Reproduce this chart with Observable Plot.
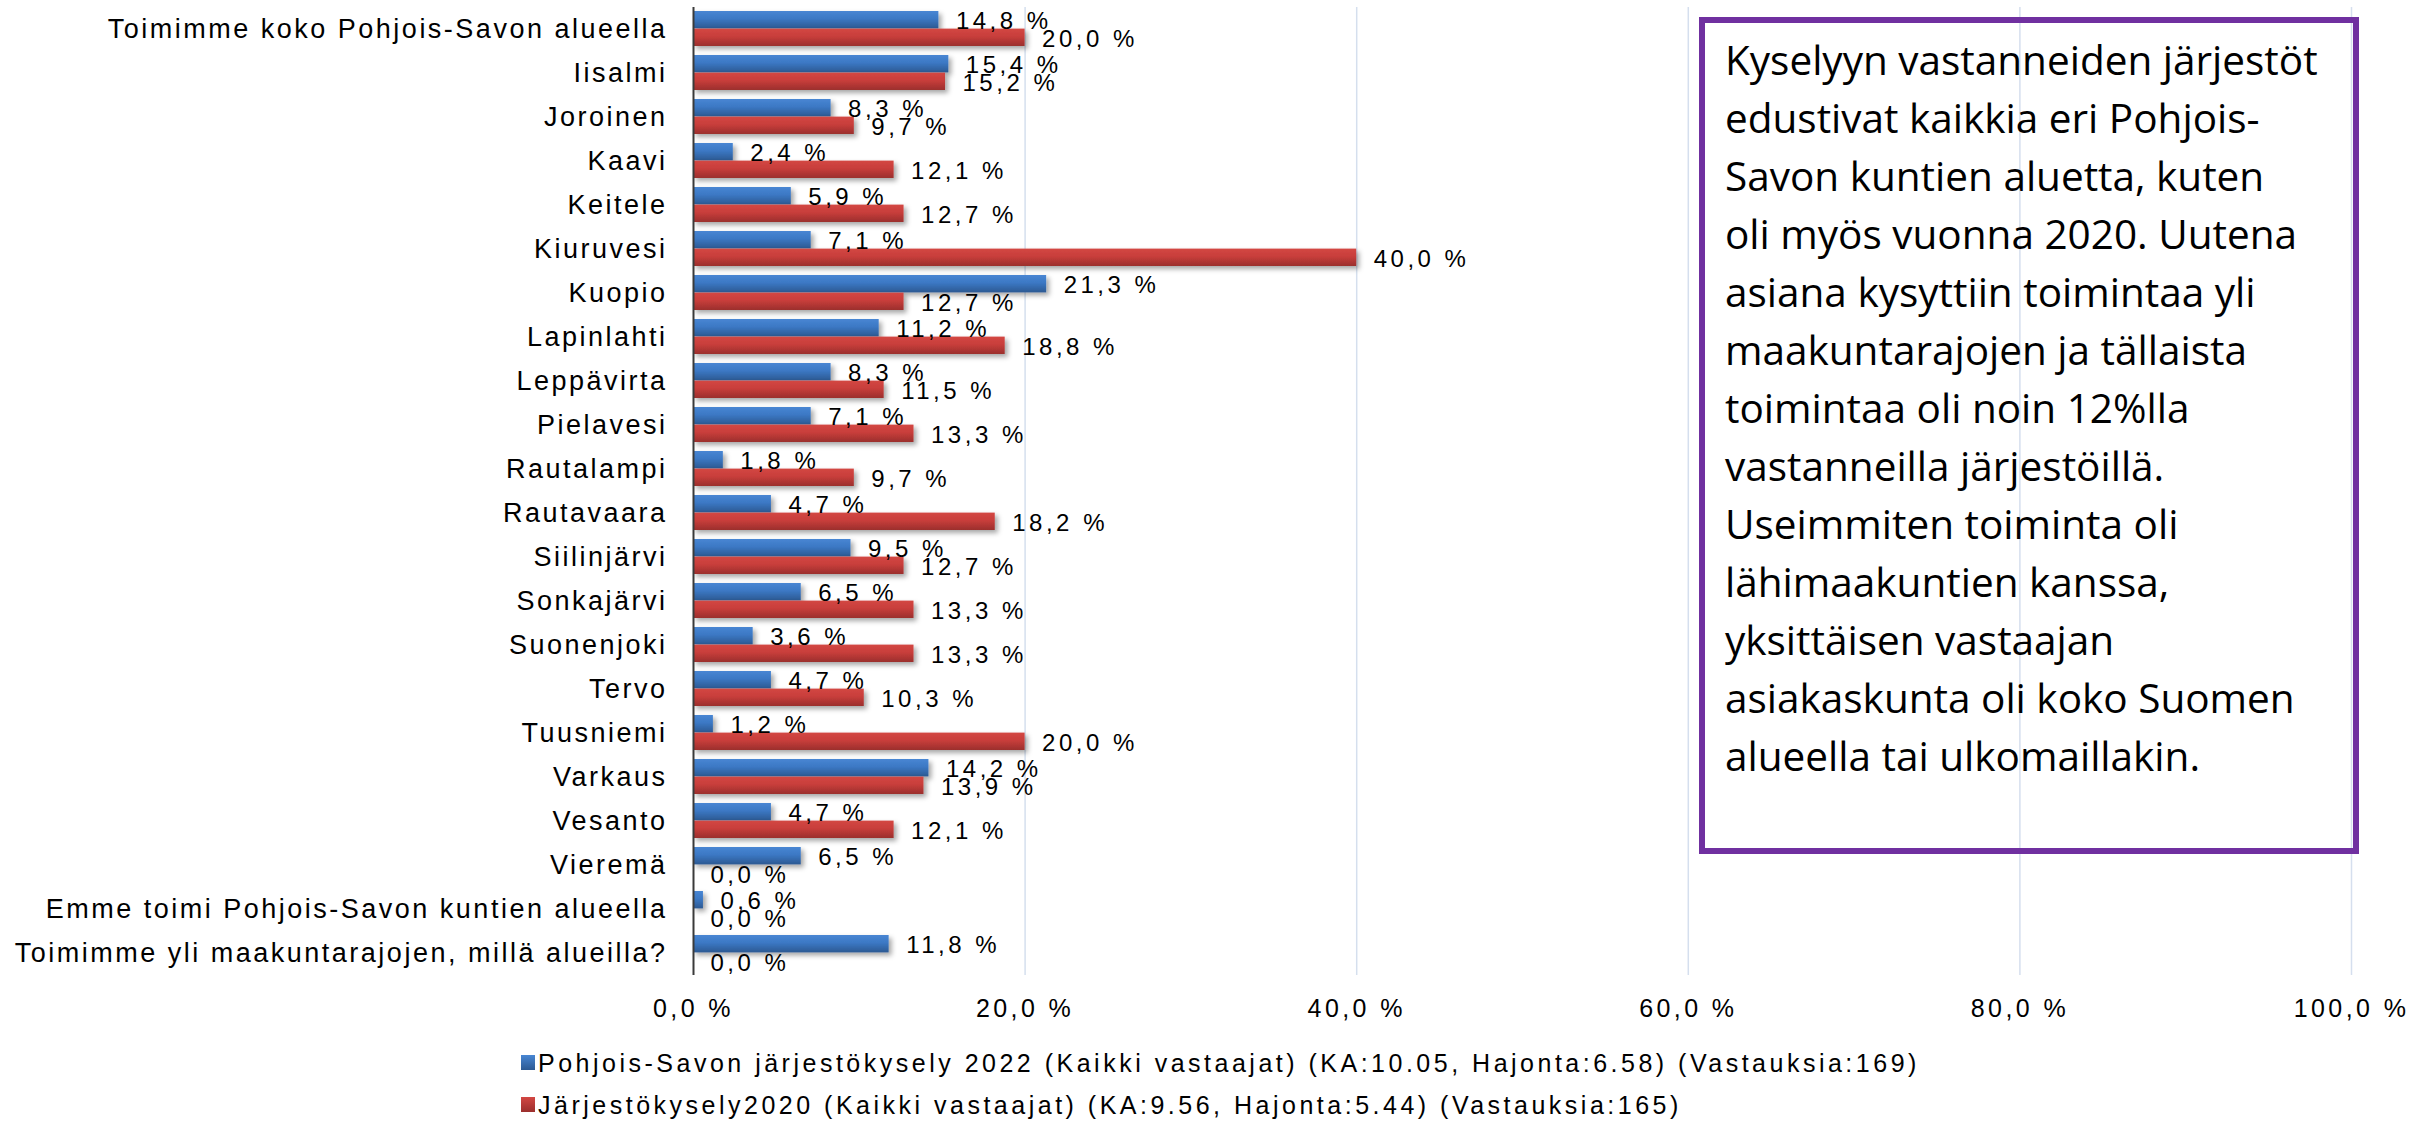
<!DOCTYPE html>
<html><head><meta charset="utf-8">
<script src="https://cdn.jsdelivr.net/npm/d3@7"></script>
<script src="https://cdn.jsdelivr.net/npm/@observablehq/plot@0.6"></script>
<style>
body{margin:0;background:#fff;}
#wrap{position:relative;width:2422px;height:1121px;overflow:hidden;background:#fff;}
#wrap svg{display:block;}
#legend{position:absolute;left:0;top:1030px;}
#note{position:absolute;left:1699px;top:17px;width:660px;height:837px;box-sizing:border-box;border:6px solid #7030A0;
  padding:8px 0 0 20px;font-family:"Open Sans",sans-serif;font-size:40.5px;line-height:58px;color:#000;white-space:pre;}
</style></head><body><div id="wrap"></div>
<script>
const categories = ["Toimimme koko Pohjois-Savon alueella","Iisalmi","Joroinen","Kaavi","Keitele","Kiuruvesi","Kuopio","Lapinlahti","Leppävirta","Pielavesi","Rautalampi","Rautavaara","Siilinjärvi","Sonkajärvi","Suonenjoki","Tervo","Tuusniemi","Varkaus","Vesanto","Vieremä","Emme toimi Pohjois-Savon kuntien alueella","Toimimme yli maakuntarajojen, millä alueilla?"];
const series2022 = [14.8,15.4,8.3,2.4,5.9,7.1,21.3,11.2,8.3,7.1,1.8,4.7,9.5,6.5,3.6,4.7,1.2,14.2,4.7,6.5,0.6,11.8];
const series2020 = [20.0,15.2,9.7,12.1,12.7,40.0,12.7,18.8,11.5,13.3,9.7,18.2,12.7,13.3,13.3,10.3,20.0,13.9,12.1,0.0,0.0,0.0];
const xTicks = [0,20,40,60,80,100];
const legendLabels = ["Pohjois-Savon järjestökysely 2022 (Kaikki vastaajat) (KA:10.05, Hajonta:6.58) (Vastauksia:169)","Järjestökysely2020 (Kaikki vastaajat) (KA:9.56, Hajonta:5.44) (Vastauksia:165)"];
const noteLines = ["Kyselyyn vastanneiden järjestöt","edustivat kaikkia eri Pohjois-","Savon kuntien aluetta, kuten","oli myös vuonna 2020. Uutena","asiana kysyttiin toimintaa yli","maakuntarajojen ja tällaista","toimintaa oli noin 12%lla","vastanneilla järjestöillä.","Useimmiten toiminta oli","lähimaakuntien kanssa,","yksittäisen vastaajan","asiakaskunta oli koko Suomen","alueella tai ulkomaillakin."];

const rows = categories.map((c,i)=>({category:c, v22:series2022[i], v20:series2020[i]}));
const fmt = v => v.toFixed(1).replace(".", ",") + " %";
const FONT = "'Liberation Sans', Arial, sans-serif";

const plot = Plot.plot({
  width:2422, height:1030,
  marginLeft:693, marginRight:71, marginTop:7, marginBottom:55,
  style:{fontFamily:FONT, background:"transparent", color:"#000"},
  x:{domain:[0,100]},
  y:{domain:categories, paddingInner:0.2, paddingOuter:0.1},
  marks:[
    Plot.ruleX(xTicks.filter(d=>d>0), {stroke:"#D5DFEE", strokeWidth:1.5}),
    Plot.barX(rows, {x:"v22", y:"category", fill:"url(#gBlue)", insetBottom:17.6}),
    Plot.barX(rows, {x:"v20", y:"category", fill:"url(#gRed)", insetTop:17.6}),
    Plot.ruleX([0], {stroke:"#3a3a3a", strokeWidth:2}),
    Plot.axisX({anchor:"bottom", ticks:xTicks, tickFormat:fmt, tickSize:0, tickPadding:24, fontSize:25, label:null}),
    Plot.axisY({anchor:"left", tickSize:0, tickPadding:26, fontSize:27, label:null}),
    Plot.text(rows, {x:"v22", y:"category", text:d=>fmt(d.v22), dx:17, dy:-8, textAnchor:"start", fontSize:24}),
    Plot.text(rows, {x:"v20", y:"category", text:d=>fmt(d.v20), dx:17, dy:10, textAnchor:"start", fontSize:24})
  ]
});

const svg = d3.select(plot);
const defs = svg.insert("defs", ":first-child");
function grad(id, stops){
  const g = defs.append("linearGradient").attr("id", id).attr("x1",0).attr("y1",0).attr("x2",0).attr("y2",1);
  stops.forEach(([o,c])=>g.append("stop").attr("offset",o).attr("stop-color",c));
}
grad("gBlue", [[0,"#4886D3"],[0.45,"#3C78C4"],[1,"#2C5992"]]);
grad("gRed", [[0,"#D34743"],[0.45,"#C83E3B"],[1,"#9B2F2D"]]);
const f = defs.append("filter").attr("id","shadow").attr("x","-5%").attr("y","-30%").attr("width","115%").attr("height","180%");
f.append("feDropShadow").attr("dx",3).attr("dy",3).attr("stdDeviation",2.5).attr("flood-color","#000").attr("flood-opacity",0.35);
svg.selectAll('g[aria-label="bar"]').attr("filter","url(#shadow)");
svg.selectAll('g[aria-label="x-axis tick label"] text').style("letter-spacing","3.4px");
svg.selectAll('g[aria-label="y-axis tick label"] text').style("letter-spacing","2.5px");
svg.selectAll('g[aria-label="text"] text').style("letter-spacing","3.5px");

const wrap = document.getElementById("wrap");
wrap.appendChild(plot);

// legend below the chart
const lg = d3.create("svg").attr("id","legend").attr("width",2422).attr("height",91);
const lgDefs = lg.append("defs");
[["lBlue",["#4886D3","#2C5992"]],["lRed",["#D34743","#9B2F2D"]]].forEach(([id,c])=>{
  const g = lgDefs.append("linearGradient").attr("id",id).attr("x1",0).attr("y1",0).attr("x2",0).attr("y2",1);
  g.append("stop").attr("offset",0).attr("stop-color",c[0]);
  g.append("stop").attr("offset",1).attr("stop-color",c[1]);
});
legendLabels.forEach((t,i)=>{
  const y0 = 25 + i*42;
  lg.append("rect").attr("x",521).attr("y",y0).attr("width",14).attr("height",15).attr("fill", i===0?"url(#lBlue)":"url(#lRed)");
  lg.append("text").attr("x",538).attr("y",y0+17).attr("font-family",FONT).attr("font-size",25)
    .style("letter-spacing","3.5px").attr("fill","#000").text(t);
});
wrap.appendChild(lg.node());

// annotation box
const note = document.createElement("div");
note.id = "note";
note.textContent = noteLines.join("\n");
wrap.appendChild(note);
</script></body></html>
